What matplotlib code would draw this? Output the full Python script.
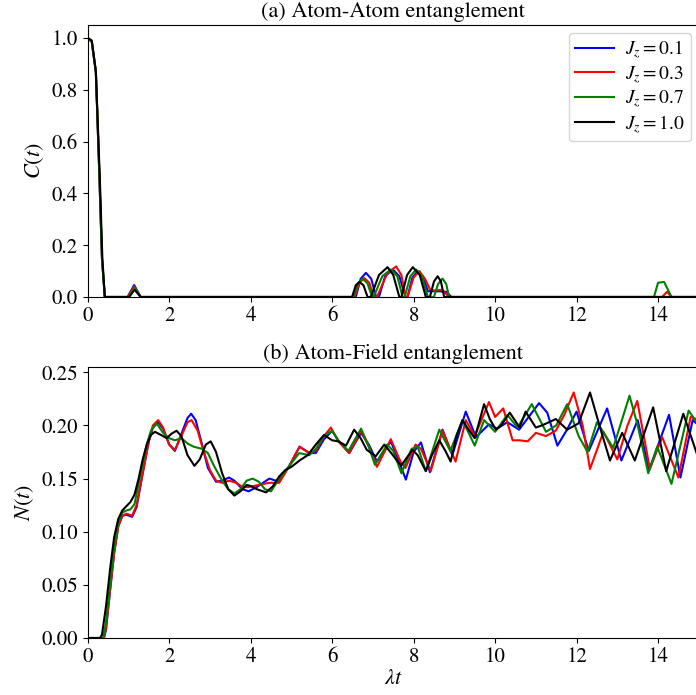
import matplotlib
matplotlib.use("Agg")
import matplotlib.pyplot as plt

plt.rcParams['font.family'] = ['STIXGeneral', 'DejaVu Serif']
plt.rcParams['mathtext.fontset'] = 'stix'

labels = [r'$J_z=0.1$', r'$J_z=0.3$', r'$J_z=0.7$', r'$J_z=1.0$']
colors = ['blue', 'red', 'green', 'black']

# ---- (a) concurrence C(t) ----
tC_blue = [0, 0.1, 0.2, 0.28, 0.35, 0.42, 0.98, 1.14, 1.3, 6.58, 6.7, 6.83, 6.96, 7.08, 7.15, 7.3, 7.49, 7.65, 7.8, 7.85, 7.97, 8.1, 8.25, 8.35, 8.6, 8.8, 8.93, 15]
C_blue = [1.0, 0.985, 0.87, 0.5, 0.15, 0.0, 0.0, 0.046, 0.0, 0.0, 0.07, 0.093, 0.07, 0.0, 0.0, 0.08, 0.106, 0.08, 0.0, 0.0, 0.075, 0.1, 0.07, 0.022, 0.022, 0.02, 0.0, 0.0]
tC_red = [0, 0.1, 0.2, 0.28, 0.35, 0.42, 0.98, 1.14, 1.3, 6.55, 6.67, 6.79, 6.91, 7.02, 7.1, 7.35, 7.57, 7.7, 7.8, 7.85, 8.0, 8.14, 8.28, 8.4, 8.5, 8.7, 8.87, 14.1, 14.22, 14.33, 15]
C_red = [1.0, 0.985, 0.87, 0.5, 0.15, 0.0, 0.0, 0.04, 0.0, 0.0, 0.055, 0.073, 0.055, 0.0, 0.0, 0.09, 0.118, 0.085, 0.0, 0.0, 0.075, 0.10, 0.07, 0.03, 0.025, 0.028, 0.0, 0.0, 0.02, 0.0, 0.0]
tC_green = [0, 0.1, 0.2, 0.28, 0.35, 0.42, 1.0, 1.15, 1.3, 6.52, 6.63, 6.75, 6.87, 6.98, 7.02, 7.23, 7.44, 7.6, 7.73, 7.78, 7.92, 8.06, 8.2, 8.35, 8.5, 8.6, 8.71, 8.8, 8.87, 13.9, 14.0, 14.15, 14.33, 15]
C_green = [1.0, 0.985, 0.87, 0.5, 0.15, 0.0, 0.0, 0.036, 0.0, 0.0, 0.052, 0.071, 0.052, 0.0, 0.0, 0.08, 0.106, 0.08, 0.0, 0.0, 0.08, 0.106, 0.08, 0.0, 0.0, 0.05, 0.071, 0.05, 0.0, 0.0, 0.055, 0.058, 0.0, 0.0]
tC_black = [0, 0.1, 0.2, 0.3, 0.36, 0.42, 1.02, 1.15, 1.3, 6.49, 6.58, 6.67, 6.77, 6.87, 6.95, 7.15, 7.36, 7.5, 7.65, 7.7, 7.84, 7.98, 8.15, 8.3, 8.4, 8.5, 8.59, 8.67, 8.75, 15]
C_black = [1.0, 0.99, 0.87, 0.45, 0.15, 0.0, 0.0, 0.028, 0.0, 0.0, 0.045, 0.058, 0.045, 0.0, 0.0, 0.085, 0.115, 0.085, 0.0, 0.0, 0.085, 0.115, 0.085, 0.0, 0.0, 0.06, 0.08, 0.06, 0.0, 0.0]

# ---- (b) negativity N(t) ----
tN_blue = [0, 0.4, 0.45, 0.55, 0.65, 0.75, 0.85, 0.95, 1.09, 1.2, 1.35, 1.5, 1.6, 1.73, 1.85, 2.0, 2.14, 2.3, 2.45, 2.54, 2.65, 2.8, 2.95, 3.15, 3.3, 3.47, 3.6, 3.8, 3.95, 4.15, 4.46, 4.7, 4.95, 5.2, 5.44, 5.6, 5.8, 6.0, 6.15, 6.42, 6.71, 6.9, 7.1, 7.44, 7.6, 7.81, 8.0, 8.18, 8.4, 8.71, 8.95, 9.28, 9.53, 9.85, 10.05, 10.3, 10.59, 11.08, 11.28, 11.53, 11.75, 12.0, 12.3, 12.75, 13.1, 13.5, 13.78, 14.27, 14.55, 14.85, 15]
N_blue = [0, 0, 0.008, 0.045, 0.08, 0.105, 0.115, 0.116, 0.114, 0.123, 0.155, 0.185, 0.198, 0.203, 0.197, 0.182, 0.176, 0.192, 0.207, 0.211, 0.205, 0.183, 0.16, 0.147, 0.148, 0.151, 0.148, 0.14, 0.138, 0.142, 0.150, 0.147, 0.162, 0.18, 0.174, 0.174, 0.187, 0.195, 0.186, 0.174, 0.193, 0.182, 0.166, 0.185, 0.17, 0.149, 0.175, 0.184, 0.156, 0.196, 0.172, 0.213, 0.189, 0.201, 0.197, 0.203, 0.196, 0.221, 0.212, 0.181, 0.195, 0.213, 0.176, 0.216, 0.167, 0.205, 0.158, 0.21, 0.151, 0.205, 0.2]
tN_red = [0, 0.4, 0.45, 0.55, 0.65, 0.75, 0.85, 0.95, 1.09, 1.2, 1.35, 1.5, 1.6, 1.73, 1.85, 2.0, 2.14, 2.3, 2.45, 2.55, 2.7, 2.85, 3.0, 3.15, 3.3, 3.47, 3.65, 3.8, 3.95, 4.2, 4.45, 4.7, 4.95, 5.2, 5.44, 5.6, 5.8, 5.97, 6.15, 6.42, 6.71, 6.9, 7.1, 7.44, 7.69, 7.8, 8.05, 8.18, 8.42, 8.71, 9.03, 9.28, 9.5, 9.85, 10.0, 10.2, 10.43, 10.6, 10.8, 11.0, 11.25, 11.49, 11.7, 11.93, 12.15, 12.33, 12.66, 13.0, 13.25, 13.49, 13.8, 14.1, 14.5, 14.8, 15]
N_red = [0, 0, 0.01, 0.045, 0.08, 0.105, 0.115, 0.117, 0.115, 0.125, 0.155, 0.185, 0.2, 0.205, 0.198, 0.182, 0.177, 0.19, 0.203, 0.205, 0.195, 0.175, 0.158, 0.148, 0.146, 0.148, 0.146, 0.142, 0.142, 0.144, 0.146, 0.146, 0.162, 0.18, 0.174, 0.176, 0.19, 0.198, 0.185, 0.174, 0.195, 0.18, 0.161, 0.187, 0.165, 0.16, 0.182, 0.178, 0.157, 0.195, 0.166, 0.205, 0.19, 0.222, 0.208, 0.216, 0.186, 0.186, 0.185, 0.193, 0.19, 0.195, 0.21, 0.231, 0.2, 0.159, 0.194, 0.168, 0.2, 0.223, 0.159, 0.189, 0.151, 0.208, 0.205]
tN_green = [0, 0.38, 0.45, 0.55, 0.65, 0.75, 0.85, 0.95, 1.05, 1.15, 1.3, 1.45, 1.55, 1.69, 1.85, 2.0, 2.14, 2.3, 2.45, 2.6, 2.8, 2.95, 3.1, 3.3, 3.45, 3.6, 3.75, 3.9, 4.05, 4.2, 4.35, 4.5, 4.7, 4.95, 5.19, 5.44, 5.6, 5.8, 6.0, 6.15, 6.4, 6.71, 6.9, 7.05, 7.35, 7.5, 7.7, 7.95, 8.1, 8.3, 8.63, 8.9, 9.2, 9.5, 9.73, 10.0, 10.3, 10.55, 10.9, 11.25, 11.5, 11.77, 12.05, 12.27, 12.5, 12.9, 13.3, 13.5, 13.76, 13.98, 14.33, 14.75, 15]
N_green = [0, 0, 0.015, 0.05, 0.085, 0.108, 0.118, 0.12, 0.121, 0.126, 0.155, 0.182, 0.195, 0.202, 0.193, 0.188, 0.186, 0.188, 0.183, 0.18, 0.178, 0.174, 0.162, 0.148, 0.14, 0.136, 0.14, 0.148, 0.15, 0.147, 0.14, 0.138, 0.15, 0.162, 0.174, 0.172, 0.178, 0.19, 0.195, 0.186, 0.176, 0.197, 0.18, 0.163, 0.182, 0.176, 0.155, 0.178, 0.18, 0.157, 0.196, 0.176, 0.205, 0.181, 0.205, 0.194, 0.21, 0.198, 0.22, 0.194, 0.2, 0.22, 0.19, 0.175, 0.203, 0.179, 0.228, 0.2, 0.155, 0.18, 0.145, 0.214, 0.2]
tN_black = [0, 0.3, 0.35, 0.45, 0.55, 0.65, 0.75, 0.85, 0.95, 1.05, 1.15, 1.25, 1.35, 1.45, 1.55, 1.65, 1.8, 1.94, 2.05, 2.18, 2.3, 2.45, 2.62, 2.75, 2.9, 3.02, 3.15, 3.3, 3.45, 3.6, 3.75, 3.9, 4.0, 4.15, 4.38, 4.55, 4.7, 4.85, 5.0, 5.2, 5.4, 5.6, 5.8, 6.0, 6.15, 6.34, 6.54, 6.7, 6.85, 7.07, 7.28, 7.45, 7.69, 7.97, 8.1, 8.3, 8.45, 8.63, 8.78, 8.91, 9.05, 9.2, 9.35, 9.5, 9.73, 9.87, 10.02, 10.15, 10.36, 10.5, 10.6, 10.75, 10.85, 11.0, 11.15, 11.49, 11.77, 12.05, 12.33, 12.6, 12.82, 13.12, 13.43, 13.88, 14.2, 14.62, 15]
N_black = [0, 0, 0.003, 0.03, 0.065, 0.095, 0.112, 0.12, 0.124, 0.128, 0.135, 0.15, 0.168, 0.182, 0.191, 0.194, 0.191, 0.188, 0.192, 0.195, 0.19, 0.172, 0.162, 0.168, 0.182, 0.185, 0.175, 0.155, 0.14, 0.134, 0.138, 0.144, 0.143, 0.14, 0.137, 0.143, 0.152, 0.158, 0.161, 0.167, 0.172, 0.182, 0.191, 0.186, 0.185, 0.181, 0.196, 0.188, 0.177, 0.171, 0.182, 0.174, 0.162, 0.177, 0.172, 0.157, 0.172, 0.186, 0.176, 0.166, 0.19, 0.205, 0.196, 0.188, 0.22, 0.206, 0.196, 0.2, 0.212, 0.204, 0.198, 0.213, 0.207, 0.198, 0.2, 0.206, 0.196, 0.202, 0.231, 0.195, 0.167, 0.193, 0.167, 0.217, 0.157, 0.211, 0.168]

C_series = [(tC_blue, C_blue), (tC_red, C_red), (tC_green, C_green), (tC_black, C_black)]
N_series = [(tN_blue, N_blue), (tN_red, N_red), (tN_green, N_green), (tN_black, N_black)]

fig = plt.figure(figsize=(6.96, 6.95), dpi=100)
ax1 = fig.add_axes([0.126, 0.5727, 0.878, 0.3914])
ax2 = fig.add_axes([0.126, 0.082, 0.878, 0.390])

FS = 15
TFS = 16
for (t, v), c, lab in zip(C_series, colors, labels):
    ax1.plot(t, v, color=c, lw=1.5, label=lab)
ax1.set_xlim(0, 15)
ax1.set_ylim(0, 1.05)
ax1.set_xticks(range(0, 15, 2))
ax1.set_yticks([0.0, 0.2, 0.4, 0.6, 0.8, 1.0])
ax1.set_ylabel(r'$C(t)$', fontsize=TFS)
ax1.set_title('(a) Atom-Atom entanglement', fontsize=TFS)
ax1.tick_params(labelsize=FS)
ax1.legend(loc='upper right', fontsize=14, handlelength=2.0, labelspacing=0.15,
           borderpad=0.3, handletextpad=0.6, borderaxespad=0.4)

for (t, v), c, lab in zip(N_series, colors, labels):
    ax2.plot(t, v, color=c, lw=1.5, label=lab)
ax2.set_xlim(0, 15)
ax2.set_ylim(0, 0.255)
ax2.set_xticks(range(0, 15, 2))
ax2.set_yticks([0.0, 0.05, 0.10, 0.15, 0.20, 0.25])
ax2.set_ylabel(r'$N(t)$', fontsize=TFS)
ax2.set_xlabel(r'$\lambda t$', fontsize=TFS, labelpad=1)
ax2.set_title('(b) Atom-Field entanglement', fontsize=TFS)
ax2.tick_params(labelsize=FS)

fig.savefig('out.png', dpi=100)
